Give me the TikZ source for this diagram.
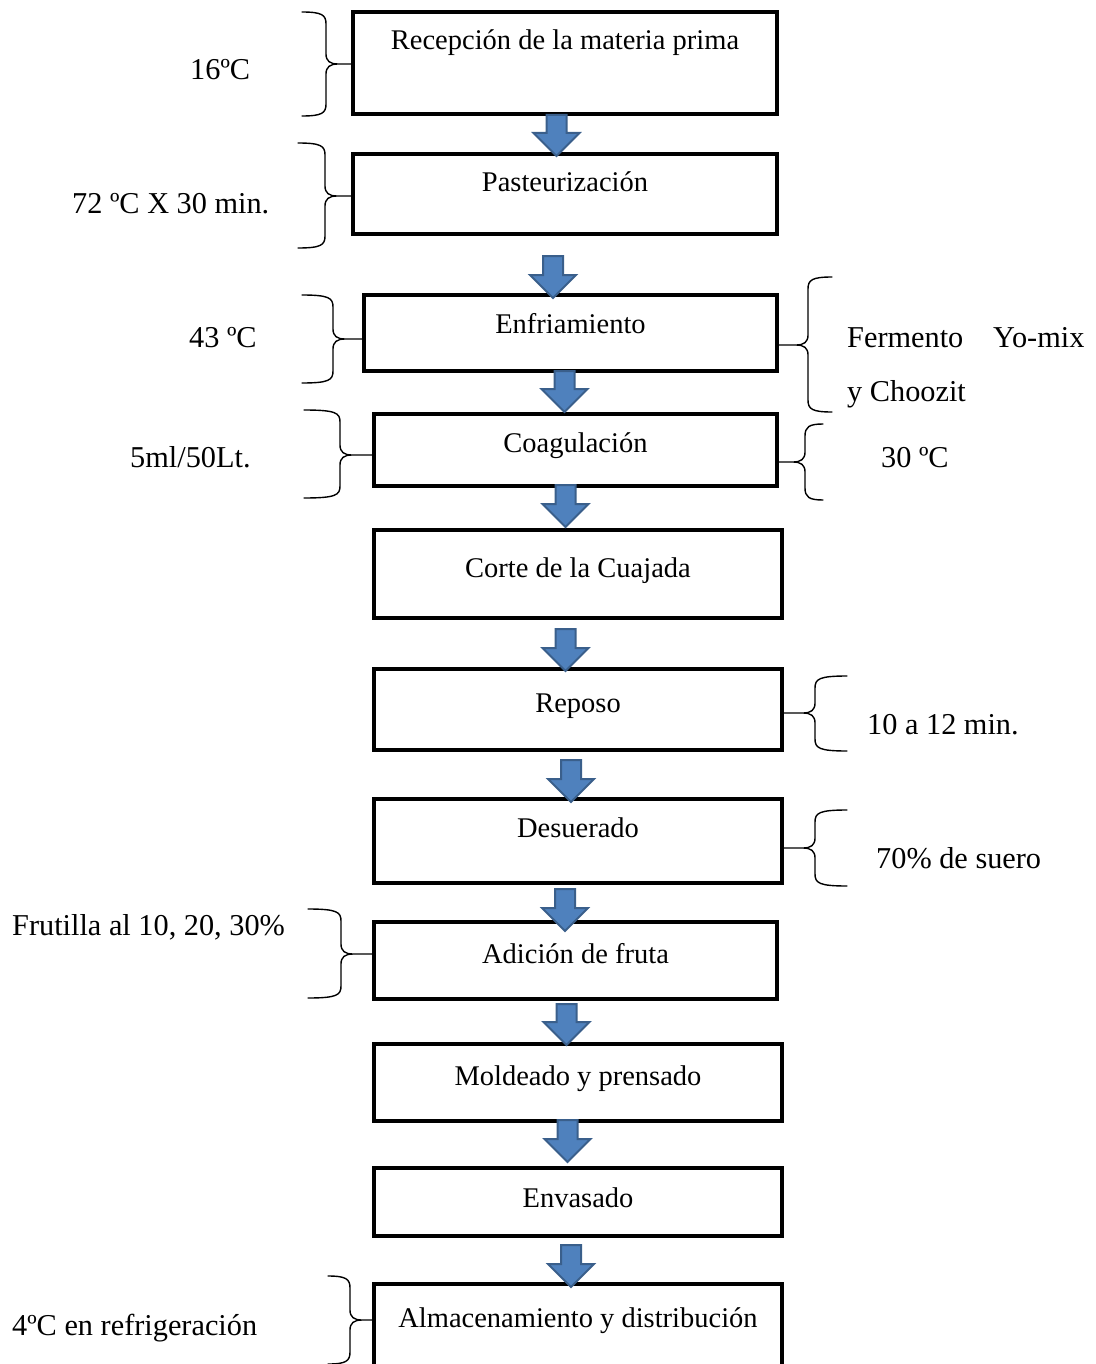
\documentclass[tikz,border=0pt]{standalone}
\usepackage{fontspec}
\setmainfont{Liberation Serif}
\usetikzlibrary{fit,calc}

\definecolor{arrowfill}{HTML}{4F81BD}
\definecolor{arrowline}{HTML}{3A5F8B}

\tikzset{
  procbox/.style={draw=black, line width=3.6pt, rectangle, inner sep=0pt},
  steptext/.style={font=\fontsize{28.5}{34}\selectfont, inner sep=0pt, anchor=base},
  sidetext/.style={font=\fontsize{30.3}{36}\selectfont, inner sep=0pt, anchor=base west},
  bracket/.style={draw=black, line width=1.4pt, line cap=round, line join=round},
  blockarrow/.style={fill=arrowfill, draw=arrowline, line width=2pt, line join=miter},
}

% process step: name, left x, right x, top y, bottom y, text baseline, text
\newcommand\procstep[7]{%
  \coordinate (#1nw) at (#2,#4);
  \coordinate (#1se) at (#3,#5);
  \node[procbox, fit={(#1nw) (#1se)}] (#1) {};
  \node[steptext] (#1txt) at ({(#2+#3)/2},#6) {#7};
}

% block arrow: name, x, shaft top y, tip y
\newcommand\flowarrow[4]{%
  \coordinate (#1tail) at (#2,#3);
  \coordinate (#1tip) at (#2,#4);
  \path[blockarrow] ($(#1tail)+(-10,0)$) -- ($(#1tail)+(10,0)$)
    -- ($(#1tip)+(10,-23)$) -- ($(#1tip)+(23,-23)$) -- (#1tip)
    -- ($(#1tip)+(-23,-23)$) -- ($(#1tip)+(-10,-23)$) -- cycle;
}

% curly bracket: end x, spine x, tip x, top y, tip y, bottom y, side (1 = tip right, -1 = tip left)
\newcommand\curly[7]{%
  \draw[bracket] (#1,#4) .. controls ({#2-4*#7},#4) and (#2,{#4+3}) .. (#2,{#4+12})
    -- (#2,{#5-10}) .. controls (#2,{#5-3}) and ({#2+4*#7},#5) .. ({#2+12*#7},#5)
    -- (#3,#5) -- ({#2+12*#7},#5)
    .. controls ({#2+4*#7},#5) and (#2,{#5+3}) .. (#2,{#5+10})
    -- (#2,{#6-12}) .. controls (#2,{#6-3}) and ({#2-4*#7},#6) .. (#1,#6);
}

\begin{document}
\begin{tikzpicture}[x=1pt, y=-1pt]
\useasboundingbox (0,0) rectangle (1095,1364);

% process steps
\procstep{b1}{353}{777}{12}{114}{50}{Recepción de la materia prima}
\procstep{b2}{353}{777}{154}{234}{192}{Pasteurización}
\procstep{b3}{364}{777}{295}{371}{333}{Enfriamiento}
\procstep{b4}{374}{777}{414}{486}{452}{Coagulación}
\procstep{b5}{374}{782}{530}{618}{577}{Corte de la Cuajada}
\procstep{b6}{374}{782}{669}{750}{712}{Reposo}
\procstep{b7}{374}{782}{799}{883}{837}{Desuerado}
\procstep{b8}{374}{777}{922}{999}{963}{Adición de fruta}
\procstep{b9}{374}{782}{1044}{1121}{1085}{Moldeado y prensado}
\procstep{b10}{374}{782}{1168}{1236}{1207}{Envasado}
\procstep{b11}{374}{782}{1284}{1372}{1327}{Almacenamiento y distribución}

% arrows between steps
\flowarrow{a1}{556.5}{115}{156}
\flowarrow{a2}{553}{256}{298}
\flowarrow{a3}{564.5}{371}{412}
\flowarrow{a4}{565.5}{485}{527}
\flowarrow{a5}{565.5}{629}{671}
\flowarrow{a6}{571}{760}{802}
\flowarrow{a7}{565}{889}{931}
\flowarrow{a8}{566.5}{1004}{1045}
\flowarrow{a9}{567.5}{1120}{1162}
\flowarrow{a10}{571}{1245}{1287}

% brackets on the left
\curly{302}{326}{351}{12}{64}{116}{1}
\curly{298}{325}{351}{143}{196}{248}{1}
\curly{302}{333}{362}{295}{339}{383}{1}
\curly{304}{340}{372}{410}{455}{498}{1}
\curly{308}{341}{372}{909}{954}{998}{1}
\curly{328}{350}{372}{1276}{1320}{1364}{1}

% brackets on the right
\curly{832}{808}{779}{277}{345}{412}{-1}
\curly{823}{805}{779}{424}{462}{500}{-1}
\curly{847}{815}{784}{676}{713}{751}{-1}
\curly{847}{815}{784}{810}{848}{886}{-1}

% left annotations
\node[sidetext] (l1) at (190,80) {16ºC};
\node[sidetext] (l2) at (72,214) {72 ºC X 30 min.};
\node[sidetext] (l3) at (189,347) {43 ºC};
\node[sidetext] (l4) at (130,467) {5ml/50Lt.};
\node[sidetext] (l5) at (12,935) {Frutilla al 10, 20, 30\%};
\node[sidetext] (l6) at (12,1335) {4ºC en refrigeración};

% right annotations
\node[sidetext] (r1a) at (847,347) {Fermento};
\node[sidetext] (r1b) at (993,347) {Yo-mix};
\node[sidetext] (r1c) at (847,401) {y Choozit};
\node[sidetext] (r2) at (881,467) {30 ºC};
\node[sidetext] (r3) at (867,734) {10 a 12 min.};
\node[sidetext] (r4) at (876,868) {70\% de suero};
\end{tikzpicture}
\end{document}
